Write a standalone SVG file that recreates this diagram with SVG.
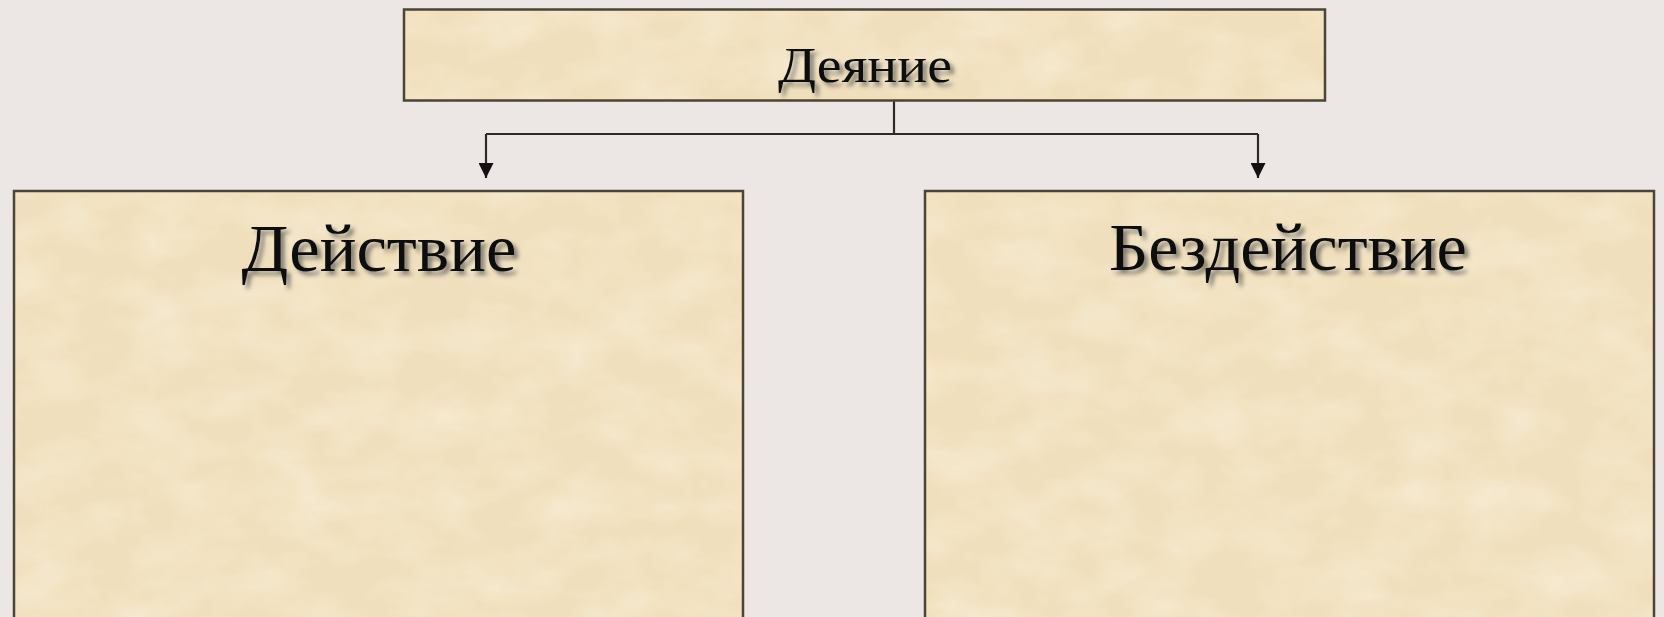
<svg xmlns="http://www.w3.org/2000/svg" width="1664" height="617" viewBox="0 0 1664 617">
<defs>
<style>
.box{stroke:#4a4536;stroke-width:2.5}
.tex{fill:#f0dfbc}
.lbl{font-family:"Liberation Serif","Times New Roman",serif;fill:#111;text-anchor:middle}
.conn{fill:none;stroke:#2e2a25;stroke-width:2.2}
</style>
<filter id="parch" x="0" y="0" width="100%" height="100%">
<feTurbulence type="fractalNoise" baseFrequency="0.015 0.025" numOctaves="5" seed="7" result="n"/>
<feColorMatrix in="n" type="matrix" values="0 0 0 0 0.98  0 0 0 0 0.92  0 0 0 0 0.79  0 0 0 -1.6 1.05" result="c"/>
<feComposite in="c" in2="SourceGraphic" operator="in"/>
</filter>
<filter id="shadow" x="-10%" y="-20%" width="120%" height="150%">
<feDropShadow dx="4" dy="4" stdDeviation="2" flood-color="#444" flood-opacity="0.65"/>
</filter>
<marker id="arrow" viewBox="0 0 12 12" refX="12" refY="6" markerWidth="15" markerHeight="15" markerUnits="userSpaceOnUse" orient="auto">
<path d="M0,0 L12,6 L0,12 z" fill="#111"/>
</marker>
</defs>
<rect width="1664" height="617" fill="#ece7e5"/>
<g id="connectors">
<path class="conn" d="M894,101 V134"/>
<path class="conn" d="M486,134 H1258"/>
<path class="conn" d="M486,134 V178" marker-end="url(#arrow)"/>
<path class="conn" d="M1258,134 V178" marker-end="url(#arrow)"/>
</g>
<g id="node-deyanie">
<rect class="tex" x="404" y="9.5" width="921" height="91"/>
<rect x="404" y="9.5" width="921" height="91" fill="#fff" filter="url(#parch)" opacity="0.5"/>
<rect class="box" x="404" y="9.5" width="921" height="91" fill="none"/>
<text class="lbl" x="865" y="82" font-size="50" textLength="174" lengthAdjust="spacingAndGlyphs" filter="url(#shadow)">Деяние</text>
</g>
<g id="node-deystvie">
<rect class="tex" x="14" y="191" width="729" height="430"/>
<rect x="14" y="191" width="729" height="430" fill="#fff" filter="url(#parch)" opacity="0.5"/>
<rect class="box" x="14" y="191" width="729" height="430" fill="none"/>
<text class="lbl" x="379" y="271" font-size="68" textLength="275" lengthAdjust="spacingAndGlyphs" filter="url(#shadow)">Действие</text>
</g>
<g id="node-bezdeystvie">
<rect class="tex" x="925" y="191" width="729" height="430"/>
<rect x="925" y="191" width="729" height="430" fill="#fff" filter="url(#parch)" opacity="0.5"/>
<rect class="box" x="925" y="191" width="729" height="430" fill="none"/>
<text class="lbl" x="1288" y="270" font-size="68" textLength="358" lengthAdjust="spacingAndGlyphs" filter="url(#shadow)">Бездействие</text>
</g>
</svg>
